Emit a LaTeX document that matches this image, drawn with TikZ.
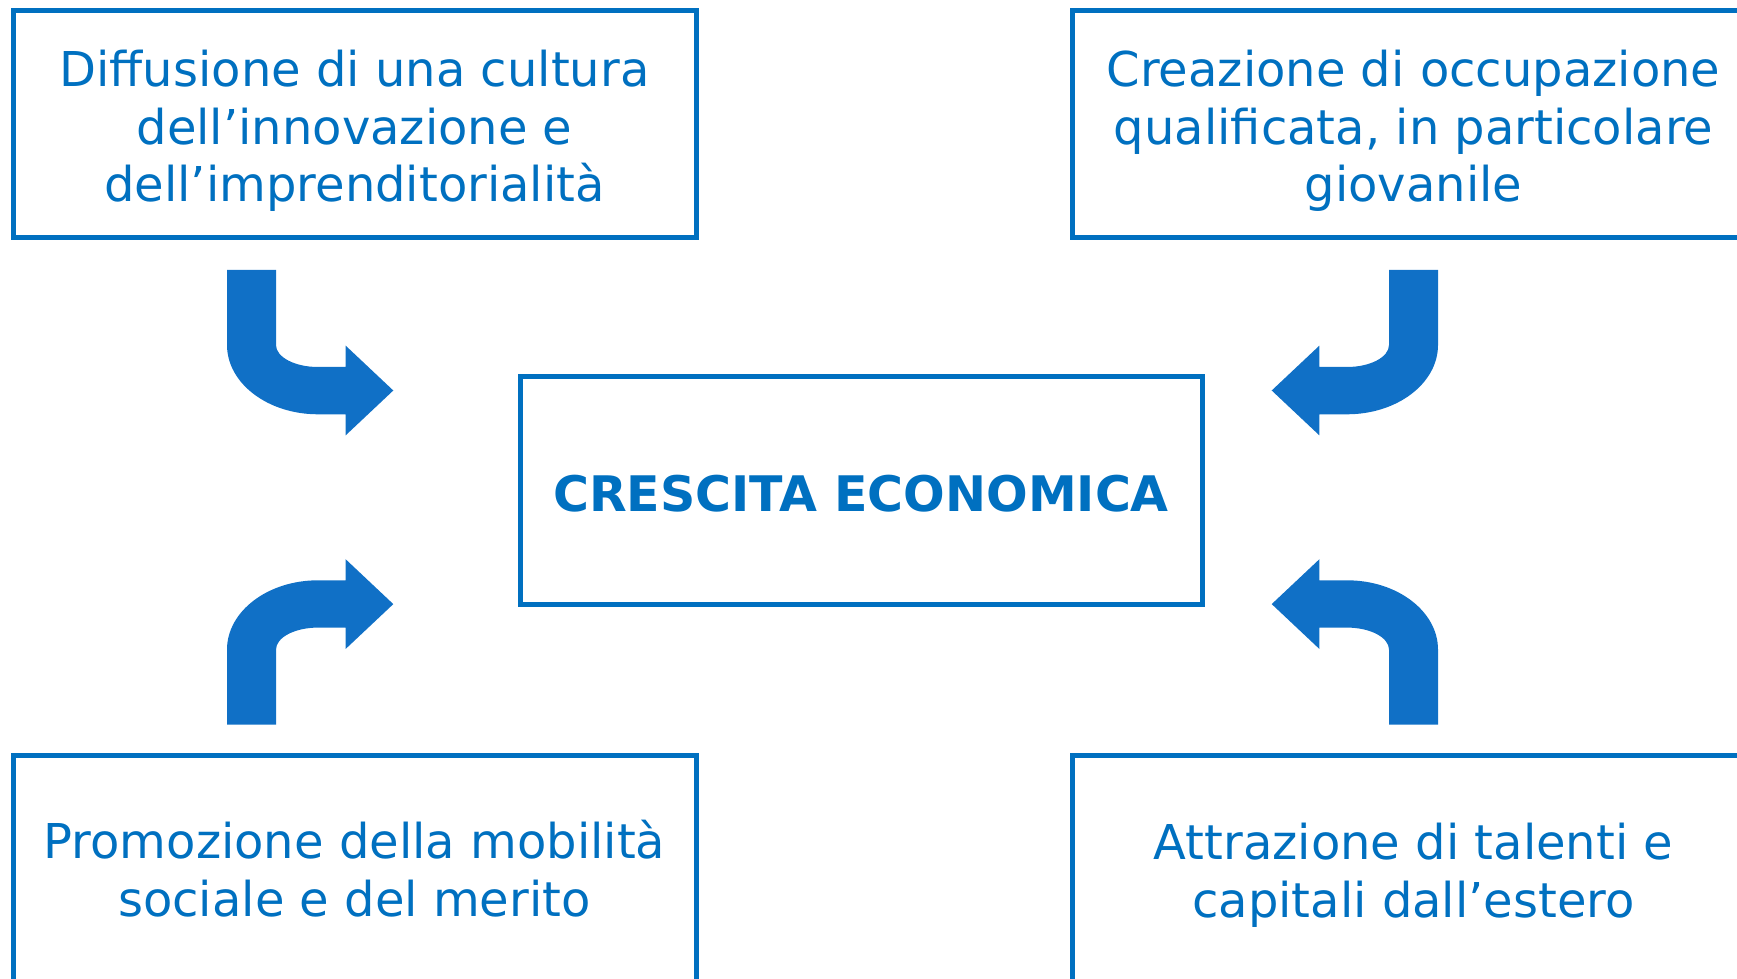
\documentclass[tikz,border=0pt]{standalone}
\usepackage{fontspec}
\setmainfont{DejaVu Sans}
\usetikzlibrary{positioning}

\definecolor{boxblue}{RGB}{0,112,192}
\definecolor{arrowblue}{RGB}{16,112,198}

\tikzset{
	goalbox/.style={draw=boxblue, line width=5pt, rectangle,
		minimum width=683pt, minimum height=227pt},
	goaltext/.style={align=center, text=boxblue, inner sep=0pt,
		font=\fontsize{48}{57.5}\selectfont},
	bentarrow/.style={fill=arrowblue, draw=none}
}

\begin{document}
\begin{tikzpicture}[x=1pt, y=1pt]
	
	\useasboundingbox (0,0) rectangle (1737,978);
	
	% boxes
	\node[goalbox, minimum width=682pt, minimum height=228pt] (growth) at (861,487) {};
	\node[goalbox] (culture) at (354.5,853.5) {};
	\node[goalbox] (jobs) at (1413.5,853.5) {};
	\node[goalbox] (merit) at (354.5,109.5) {};
	\node[goalbox] (talent) at (1413.5,109.5) {};
	
	% texts
	\node[goaltext, font=\fontsize{49}{58}\selectfont\bfseries] (growth-t) at ([yshift=-2.2pt]growth.center) {CRESCITA ECONOMICA};
	\node[goaltext] (culture-t) at ([yshift=-6.6pt]culture.center) {Diffusione di una cultura\\dell’innovazione e\\dell’imprenditorialità};
	\node[goaltext] (jobs-t) at ([yshift=-6.6pt]jobs.center) {Creazione di occupazione\\qualificata, in particolare\\giovanile};
	\node[goaltext] (merit-t) at (merit.center) {Promozione della mobilità\\sociale e del merito};
	\node[goaltext] (talent-t) at ([yshift=-6.6pt]talent.center) {Attrazione di talenti e\\capitali dall’estero};
	
	% the four bent arrows, mirrored round one point
	\coordinate (hub) at (832.5,480.7);
	\foreach \sx/\sy in {1/1, -1/1, 1/-1, -1/-1} {
		\begin{scope}[shift={(hub)}, xscale=\sx, yscale=\sy]
			\fill[bentarrow] (-605.5,227.3) -- (-556.5,227.3) -- (-556.5,152.3)
				arc[start angle=180, end angle=270, x radius=42, y radius=22]
				-- (-486.9,130.3) -- (-486.9,151.7) -- (-439.2,106.8) -- (-486.9,61.9) -- (-486.9,83) -- (-514.5,83)
				arc[start angle=270, end angle=180, x radius=91, y radius=69.3] -- cycle;
		\end{scope}
	}
	
\end{tikzpicture}
\end{document}
